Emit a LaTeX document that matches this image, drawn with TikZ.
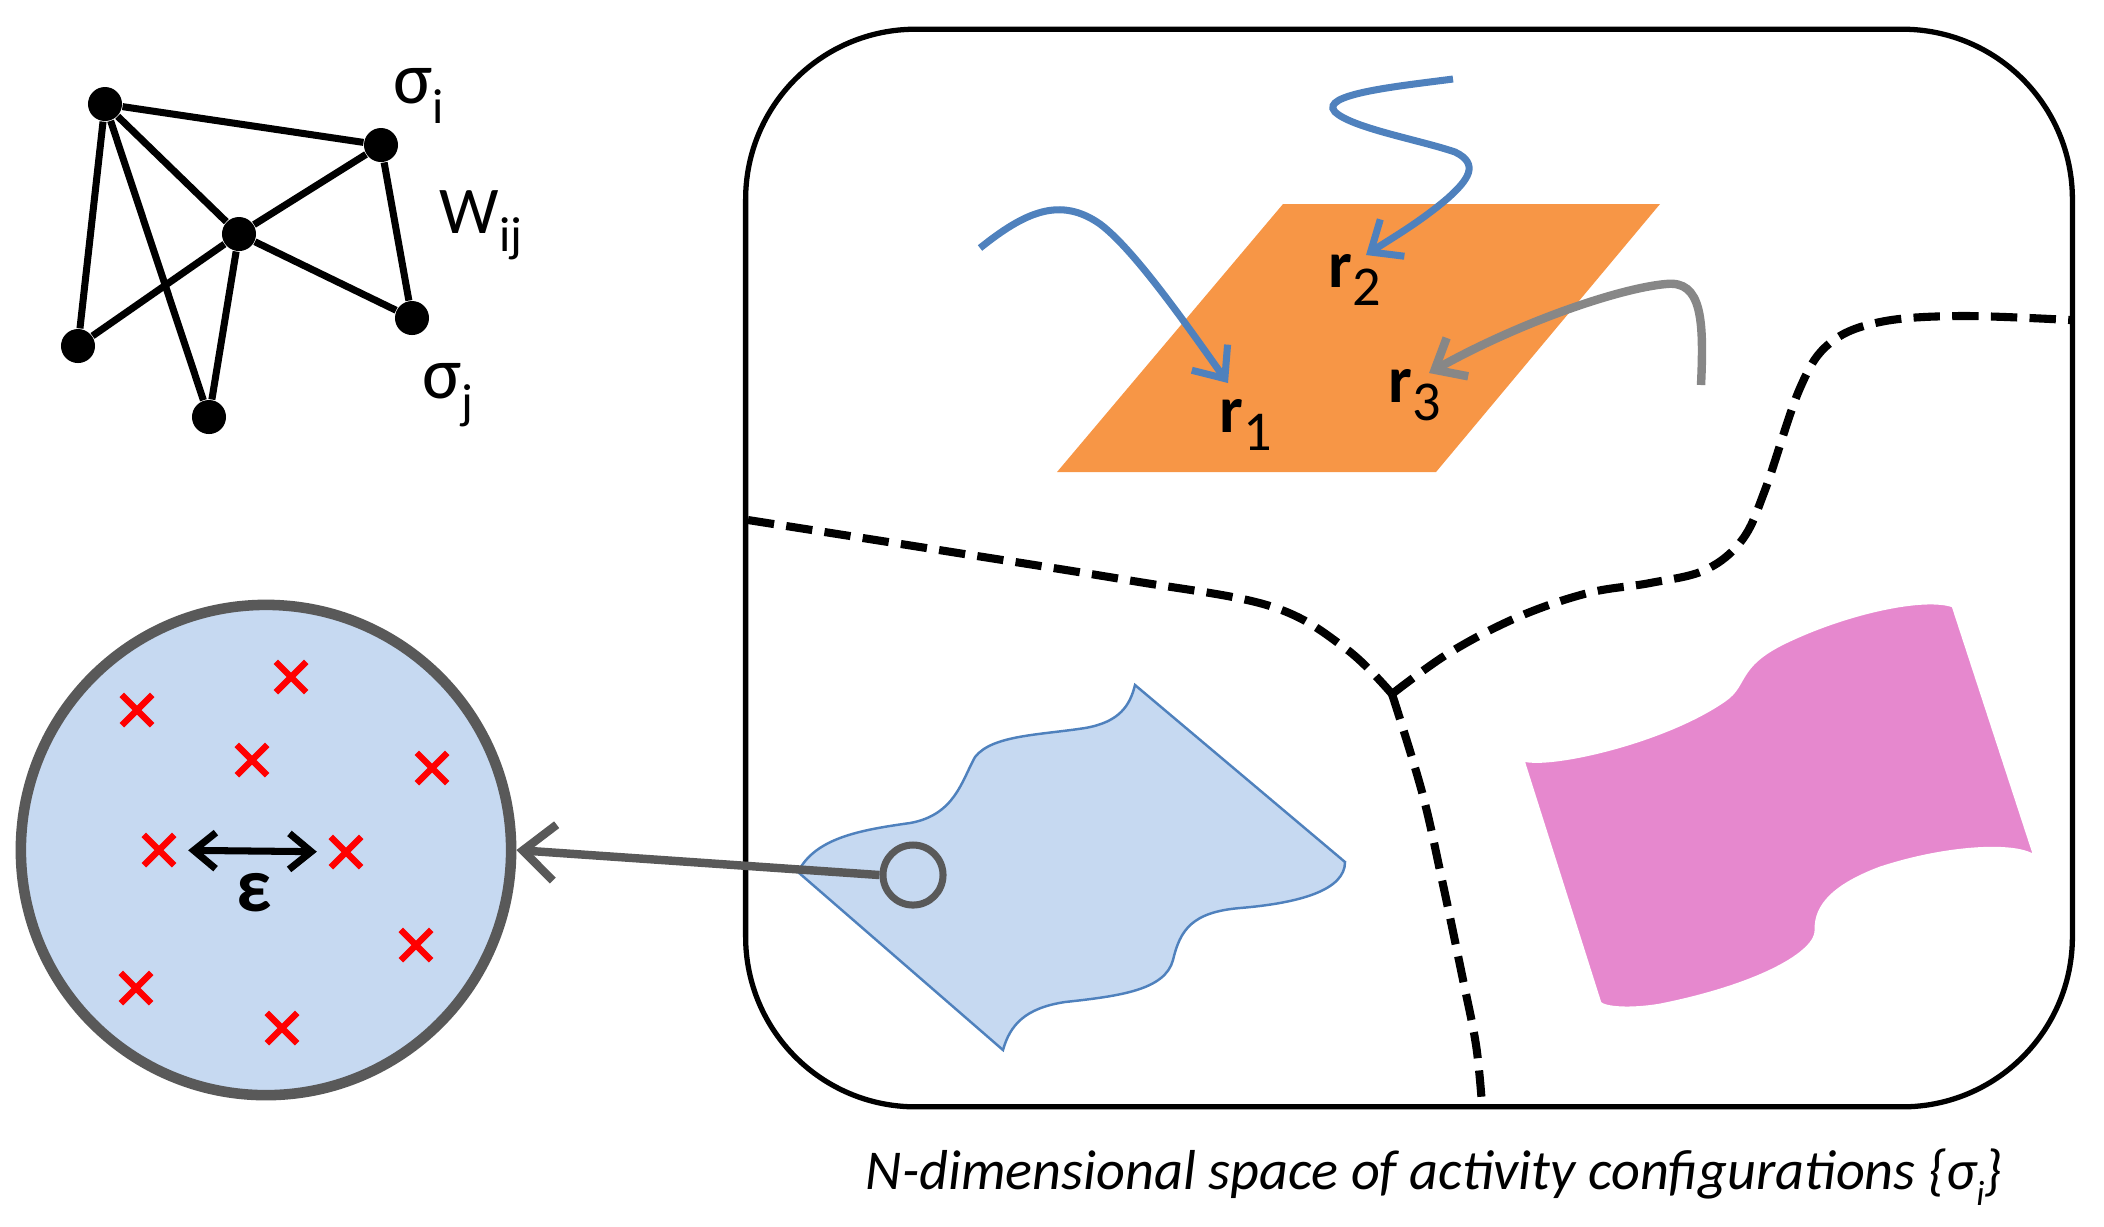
\documentclass[tikz,border=0pt]{standalone}
\usepackage{fontspec}
\setmainfont{Carlito}
\usetikzlibrary{positioning,arrows.meta,shapes.misc}

\definecolor{lineblue}{HTML}{4F81BD}
\definecolor{patchblue}{HTML}{C6D9F1}
\definecolor{planeorange}{HTML}{F79646}
\definecolor{patchpink}{HTML}{E688CE}
\definecolor{probegray}{HTML}{595959}
\definecolor{pathgray}{HTML}{878787}

\newcommand{\subtext}[3]{#1\raisebox{-0.28em}{\fontsize{#3}{#3}\selectfont #2}}

\begin{document}
\begin{tikzpicture}[x=0.01cm, y=-0.01cm,
    unit/.style={circle, fill=black, inner sep=0pt, minimum size=0.34cm},
    link/.style={line width=2pt},
    redx/.style={cross out, draw=red, line width=1.8pt, inner sep=0pt, minimum size=0.24cm},
    flow/.style={line width=2pt, -{Straight Barb[length=0.26cm, width=0.44cm]}},
    fence/.style={line width=2.3pt, dash pattern=on 7.5pt off 3.5pt},
    biglbl/.style={font=\fontsize{21}{24}\selectfont, anchor=base west, inner sep=0pt},
    rlbl/.style={font=\fontsize{19}{22}\selectfont, anchor=base west, inner sep=0pt}]
    \useasboundingbox (0,0) rectangle (2104,1226);

    % the network
    \node (A) [unit] at (105,104) {};
    \node (B) [unit] at (381,145) {};
    \node (C) [unit] at (239,234) {};
    \node (D) [unit] at (78,346) {};
    \node (E) [unit] at (209,417) {};
    \node (F) [unit] at (412,318) {};

    \draw[link] (A) -- (B);
    \draw[link] (A) -- (C);
    \draw[link] (A) -- (D);
    \draw[link] (A) -- (E);
    \draw[link] (B) -- (C);
    \draw[link] (B) -- (F);
    \draw[link] (C) -- (D);
    \draw[link] (C) -- (E);
    \draw[link] (C) -- (F);

    \node (sigi) [biglbl] at (393,103) {\subtext{σ}{i}{14}};
    \node (wij) [biglbl, font=\fontsize{19}{22}\selectfont] at (439,233) {\subtext{W}{ij}{14}};
    \node (sigj) [biglbl] at (422,398) {\subtext{σ}{j}{14}};

    % the space of configurations
    \node (space) [draw, line width=1.5pt, rounded corners=1.7cm, inner sep=0pt,
        minimum width=13.26cm, minimum height=10.77cm] at (1409,568) {};

    \coordinate (meet) at (1392,694);
    \draw[fence] plot[smooth, tension=0.6] coordinates {(748,520) (939,550) (1127,580)
        (1270,606) (1345,648) (1392,694)};
    \draw[fence] plot[smooth, tension=0.6] coordinates {(1392,694) (1422,792) (1442,880)
        (1462,975) (1476,1045) (1482,1105)};
    \draw[fence] plot[smooth, tension=0.6] coordinates {(1392,694) (1449,653) (1518,617)
        (1588,593) (1650,583) (1705,570) (1742,540) (1765,490) (1800,388) (1830,343)
        (1880,322) (1960,316) (2070,320)};

    % the plane and the trajectories
    \fill[planeorange] (1283,204) -- (1660,204) -- (1436,472) -- (1057,472) -- cycle;

    \draw[flow, lineblue] (980,248) .. controls (1025,212) and (1060,196) .. (1100,224)
        .. controls (1135,250) and (1190,330) .. (1228,383);
    \draw[flow, lineblue] (1453,79) .. controls (1400,86) and (1318,94) .. (1335,112)
        .. controls (1352,128) and (1420,140) .. (1455,152)
        .. controls (1480,164) and (1468,180) .. (1448,198)
        .. controls (1420,222) and (1392,238) .. (1366,255);
    \draw[flow, pathgray, line width=2.4pt] (1701,385) .. controls (1704,320) and (1702,280) .. (1666,284)
        .. controls (1620,288) and (1520,322) .. (1429,373);

    \node (r1) [rlbl] at (1219,432) {\subtext{\textbf{r}}{1}{16}};
    \node (r2) [rlbl] at (1328,287) {\subtext{\textbf{r}}{2}{16}};
    \node (r3) [rlbl] at (1388,402) {\subtext{\textbf{r}}{3}{16}};

    % the two patches
    \draw[lineblue, fill=patchblue, line width=0.7pt] (798,872)
        .. controls (815,838) and (860,830) .. (910,823)
        .. controls (955,815) and (962,780) .. (975,757)
        .. controls (992,735) and (1040,735) .. (1085,728)
        .. controls (1120,722) and (1130,705) .. (1135,685)
        -- (1345,862)
        .. controls (1345,890) and (1300,903) .. (1240,908)
        .. controls (1192,912) and (1180,930) .. (1173,960)
        .. controls (1165,990) and (1120,996) .. (1065,1002)
        .. controls (1025,1008) and (1010,1025) .. (1003,1050)
        -- cycle;

    \draw[white, fill=patchpink, line width=0.8pt] (1523,760)
        .. controls (1550,768) and (1665,742) .. (1725,700)
        .. controls (1748,684) and (1735,665) .. (1790,640)
        .. controls (1850,612) and (1925,596) .. (1953,606)
        -- (2035,857)
        .. controls (2020,843) and (1950,845) .. (1880,868)
        .. controls (1835,885) and (1815,905) .. (1816,930)
        .. controls (1817,952) and (1760,985) .. (1660,1005)
        .. controls (1630,1010) and (1605,1008) .. (1600,1003)
        -- cycle;

    % zoomed neighbourhood
    \node (zoom) [circle, draw=probegray, fill=patchblue, line width=3pt,
        minimum size=4.9cm] at (266,850) {};
    \node (probe) [circle, draw=probegray, line width=2pt, minimum size=0.6cm] at (913,875) {};
    \draw[probegray, line width=2.4pt, -{Straight Barb[length=0.32cm, width=0.56cm]}]
        (probe.west) -- (zoom.east);

    \node (x1) [redx] at (291,677) {};
    \node (x2) [redx] at (137,710) {};
    \node (x3) [redx] at (252,760) {};
    \node (x4) [redx] at (432,768) {};
    \node (x5) [redx] at (159,850) {};
    \node (x6) [redx] at (346,852) {};
    \node (x7) [redx] at (416,945) {};
    \node (x8) [redx] at (136,988) {};
    \node (x9) [redx] at (282,1028) {};

    \draw[line width=2pt, {Straight Barb[length=0.22cm, width=0.36cm]}-{Straight Barb[length=0.22cm, width=0.36cm]},
        shorten <=0.14cm, shorten >=0.14cm] (x5) -- (x6);
    \node (eps) [font=\fontsize{22}{24}\selectfont\bfseries] at (254,893) {ε};

    \node (caption) [font=\fontsize{16}{19}\selectfont\itshape] at (1434,1177)
        {N-dimensional space of activity configurations \{\subtext{σ}{i}{10}\}};
\end{tikzpicture}
\end{document}
